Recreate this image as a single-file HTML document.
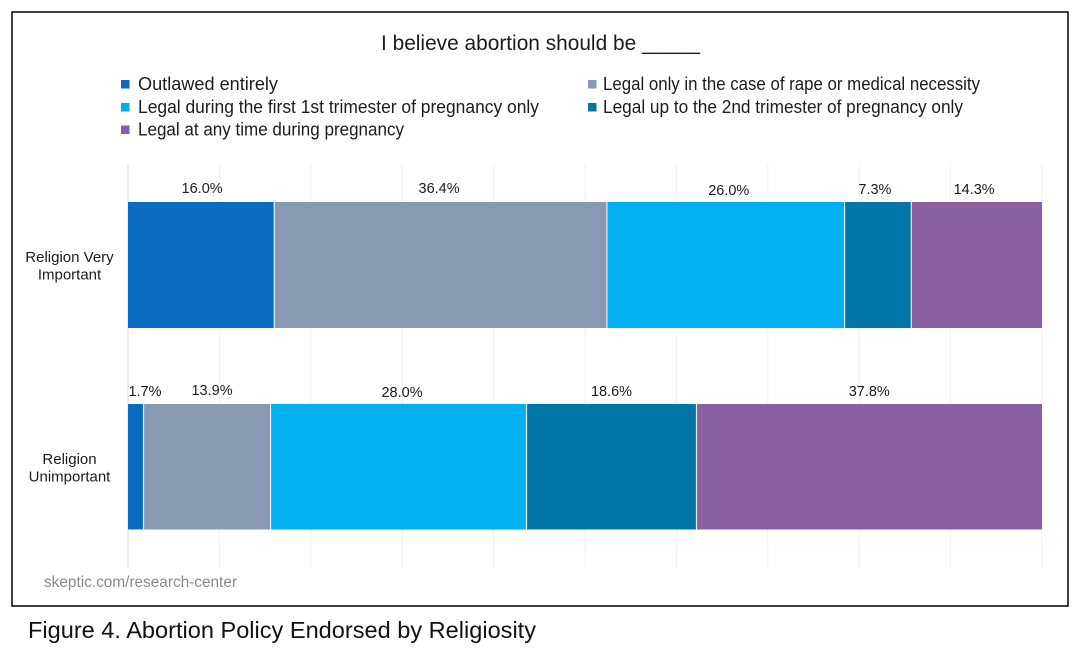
<!DOCTYPE html>
<html>
<head>
<meta charset="utf-8">
<title>Abortion Policy Endorsed by Religiosity</title>
<style>
html,body{margin:0;padding:0;background:#fff;width:1076px;height:652px;overflow:hidden}
svg{display:block}
text{font-family:"Liberation Sans",sans-serif;fill:#1c1c1c}
</style>
</head>
<body>
<svg id="chart" width="1076" height="652" viewBox="0 0 1076 652" xmlns="http://www.w3.org/2000/svg">
  <rect x="12" y="12" width="1056" height="594" fill="#fff" stroke="#111" stroke-width="1.6"/>
  <text x="381" y="50" font-size="21.5" textLength="319" lengthAdjust="spacingAndGlyphs">I believe abortion should be _____</text>

  <g>
    <g>
      <rect x="121" y="80" width="8.5" height="8.5" fill="#0a6cc0"/>
      <text x="138" y="90" font-size="18" textLength="140" lengthAdjust="spacingAndGlyphs">Outlawed entirely</text>
    </g>
    <g>
      <rect x="121" y="103" width="8.5" height="8.5" fill="#00b0f0"/>
      <text x="138" y="113" font-size="18" textLength="401" lengthAdjust="spacingAndGlyphs">Legal during the first 1st trimester of pregnancy only</text>
    </g>
    <g>
      <rect x="121" y="125.500" width="8.5" height="8.5" fill="#8a5fa0"/>
      <text x="138" y="135.500" font-size="18" textLength="266" lengthAdjust="spacingAndGlyphs">Legal at any time during pregnancy</text>
    </g>
    <g>
      <rect x="588" y="80" width="8.5" height="8.5" fill="#8899b1"/>
      <text x="603" y="90" font-size="18" textLength="377" lengthAdjust="spacingAndGlyphs">Legal only in the case of rape or medical necessity</text>
    </g>
    <g>
      <rect x="588" y="103" width="8.5" height="8.5" fill="#0077a6"/>
      <text x="603" y="113" font-size="18" textLength="360" lengthAdjust="spacingAndGlyphs">Legal up to the 2nd trimester of pregnancy only</text>
    </g>
  </g>

  <g id="plot"></g>

  <text x="44" y="587" font-size="15.5" textLength="193" lengthAdjust="spacingAndGlyphs" style="fill:#8a8a8a">skeptic.com/research-center</text>
  <text x="28" y="638" font-size="23.5" textLength="508" lengthAdjust="spacingAndGlyphs" style="fill:#111">Figure 4. Abortion Policy Endorsed by Religiosity</text>
</svg>

<script>
const categories = ["Religion Very Important", "Religion Unimportant"];
const outlawedEntirely = [16.0, 1.7];
const rapeOrMedicalOnly = [36.4, 13.9];
const firstTrimesterOnly = [26.0, 28.0];
const secondTrimesterOnly = [7.3, 18.6];
const anyTime = [14.3, 37.8];
const xTicks = [0, 10, 20, 30, 40, 50, 60, 70, 80, 90, 100];

const NS = 'http://www.w3.org/2000/svg';
const plot = document.getElementById('plot');
const plotLeft = 128, plotRight = 1042, plotTop = 164, plotBottom = 568;
const xScale = function (v) { return plotLeft + (plotRight - plotLeft) * v / 100; };
const rowHeight = 202;
const barHeight = 126;
const yRowTop = function (i) { return 202 + i * rowHeight; };
const seriesList = [
  { key: 'outlawed', values: outlawedEntirely, color: '#0a6cc0', nudge: [[1, 0], [0, 1]] },
  { key: 'rape-or-medical', values: rapeOrMedicalOnly, color: '#8899b1', nudge: [[-1.5, 0], [5, 0]] },
  { key: 'first-trimester', values: firstTrimesterOnly, color: '#00b0f0', nudge: [[3, 2], [3.5, 2]] },
  { key: 'second-trimester', values: secondTrimesterOnly, color: '#0077a6', nudge: [[-3, 1], [0, 1]] },
  { key: 'any-time', values: anyTime, color: '#8a5fa0', nudge: [[-2.5, 1], [0, 1]] }
];

function make(tag, attrs, parent) {
  const el = document.createElementNS(NS, tag);
  Object.keys(attrs).forEach(function (k) { el.setAttribute(k, attrs[k]); });
  parent.appendChild(el);
  return el;
}

xTicks.forEach(function (t) {
  const line = make('line', { x1: xScale(t), x2: xScale(t), y1: plotTop, y2: plotBottom, stroke: t === 0 ? '#dcdcdc' : '#f1f1f1', 'stroke-width': t === 0 ? 1.2 : 1 }, plot);
  
  
});

categories.forEach(function (cat, i) {
  let cum = 0;
  const y = yRowTop(i);
  seriesList.forEach(function (s) {
    const v = s.values[i];
    const x0 = xScale(cum);
    const x1 = xScale(cum + v);
    const rect = make('rect', { x: x0, y: y, width: x1 - x0, height: barHeight - i * 0.5, fill: s.color }, plot);
    
    
    if (cum > 0) {
      const sep = make('line', { x1: x0, x2: x0, y1: y, y2: y + barHeight - i * 0.5, stroke: '#e6ecf2', 'stroke-width': 1.2 }, plot);
      
      
    }
    const labelCenter = Math.max((x0 + x1) / 2, plotLeft + 17);
    const label = make('text', { x: labelCenter + s.nudge[i][0], y: y - 9 + s.nudge[i][1], 'font-size': 14.5, 'text-anchor': 'middle' }, plot);
    label.textContent = v.toFixed(1) + '%';
    
    
    cum += v;
  });

  const words = cat.split(' ');
  const lines = i === 0 ? [words.slice(0, 2).join(' '), words.slice(2).join(' ')] : [words[0], words[1]];
  lines.forEach(function (ln, j) {
    const t = make('text', { x: 69.5, y: y + 60 + j * 17.5, 'font-size': 15, 'text-anchor': 'middle' }, plot);
    t.textContent = ln;
    
    
  });
});
</script>
</body>
</html>
